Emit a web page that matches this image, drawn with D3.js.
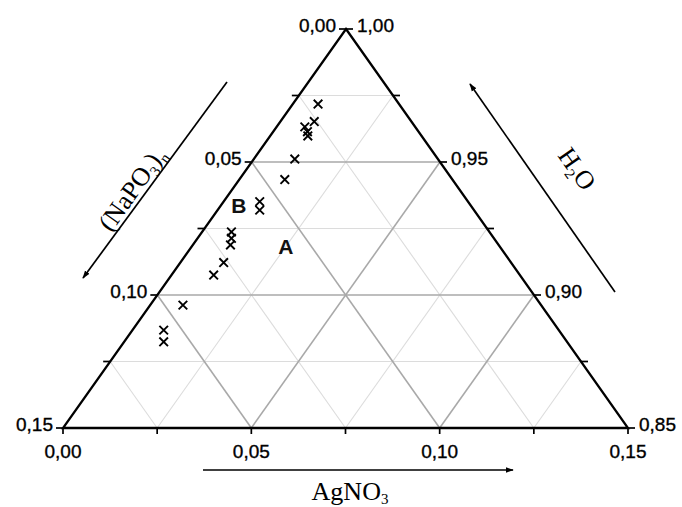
<!DOCTYPE html>
<html>
<head>
<meta charset="utf-8">
<script src="https://cdn.jsdelivr.net/npm/d3@7"></script>
<style>
  html, body { margin: 0; padding: 0; background: #fff; }
  svg { display: block; }
  .tick-label { font-family: "Liberation Sans", Arial, sans-serif; font-size: 19px; fill: #000; stroke: #000; stroke-width: 0.35px; }
  .axis-title { font-family: "Liberation Serif", "Times New Roman", serif; font-size: 26px; fill: #000; }
  .region { font-family: "Liberation Sans", Arial, sans-serif; font-size: 21px; font-weight: bold; fill: #111; }
</style>
</head>
<body>
<svg id="chart" width="682" height="507"></svg>
<script>
// Mass fractions of the measured compositions (H2O is the remainder)
const agno3 = [0.0067, 0.0090, 0.0091, 0.0075, 0.0100, 0.0109, 0.0121, 0.0096, 0.0112,
               0.0078, 0.0090, 0.0100, 0.0115, 0.0112, 0.0087, 0.0083, 0.0105];
const napo3 = [0.0215, 0.0258, 0.0295, 0.0293, 0.0302, 0.0380, 0.0445, 0.0553, 0.0569,
               0.0685, 0.0697, 0.0712, 0.0763, 0.0813, 0.0951, 0.1049, 0.1071];

// Axis ticks and labels
const tickValues = [0, 0.025, 0.05, 0.075, 0.10, 0.125, 0.15];
const labelValues = [0, 0.05, 0.10, 0.15];
const gridMajor = [0.05, 0.10];
const gridMinor = [0.025, 0.075, 0.125];

// Region labels placed by composition (AgNO3, NaPO3 fractions)
const regionNames = ["A", "B"];
const regionAgno3 = [0.0249, 0.0047];
const regionNapo3 = [0.0567, 0.0615];

const span = 0.15;
const svg = d3.select("#chart");

// Triangle corners: apex = pure water, bottom-left = max (NaPO3)n, bottom-right = max AgNO3
const apex = { x: 346, y: 29 }, bl = { x: 63, y: 428 }, br = { x: 628, y: 428 };

// Each component is a linear scale along its own edge direction
const aScale = d3.scaleLinear().domain([0, span]).range([0, 1]);
const nScale = d3.scaleLinear().domain([0, span]).range([0, 1]);
function proj(a, n) {
  const u = aScale(a), v = nScale(n);
  return [apex.x + u * (br.x - apex.x) + v * (bl.x - apex.x),
          apex.y + u * (br.y - apex.y) + v * (bl.y - apex.y)];
}
const fmt = v => d3.format(".2f")(v).replace(".", ",");
const line = d3.line();

// Grid lines
function gridSegs(vals) {
  const segs = [];
  vals.forEach(v => {
    segs.push([proj(0, v), proj(v, 0)]);            // constant H2O
    segs.push([proj(v, 0), proj(v, span - v)]);     // constant AgNO3
    segs.push([proj(0, v), proj(span - v, v)]);     // constant (NaPO3)n
  });
  return segs;
}
const grid = svg.append("g");
grid.selectAll("path.minor").data(gridSegs(gridMinor)).join("path")
  .attr("class", "minor").attr("d", line)
  .attr("stroke", "#dcdcdc").attr("stroke-width", 1.1).attr("fill", "none");
grid.selectAll("path.major").data(gridSegs(gridMajor)).join("path")
  .attr("class", "major").attr("d", line)
  .attr("stroke", "#a9a9a9").attr("stroke-width", 1.6).attr("fill", "none");

// Triangle frame
svg.append("path")
  .attr("d", line([proj(0, 0), proj(span, 0), proj(0, span)]) + "Z")
  .attr("fill", "none").attr("stroke", "#000").attr("stroke-width", 2.3)
  .attr("stroke-linejoin", "miter");

const axes = svg.append("g").attr("stroke", "#000").attr("stroke-width", 1.7);

// Bottom axis: AgNO3
const xScale = d3.scaleLinear().domain([0, span]).range([bl.x, br.x]);
tickValues.forEach(v => {
  const x = xScale(v);
  axes.append("line").attr("x1", x).attr("x2", x).attr("y1", bl.y).attr("y2", bl.y + 6);
});
svg.selectAll("text.bottom").data(labelValues).join("text")
  .attr("class", "tick-label bottom")
  .attr("x", d => xScale(d)).attr("y", bl.y + 30)
  .attr("text-anchor", "middle").text(fmt);

// Left axis: (NaPO3)n, zero at the apex
tickValues.forEach(v => {
  const [x, y] = proj(0, v);
  axes.append("line").attr("x1", x - 7).attr("x2", x).attr("y1", y).attr("y2", y);
});
svg.selectAll("text.left").data(labelValues).join("text")
  .attr("class", "tick-label left")
  .attr("x", d => proj(0, d)[0] - 10).attr("y", d => proj(0, d)[1] + 3)
  .attr("text-anchor", "end").text(fmt);

// Right axis: H2O, 1,00 at the apex
tickValues.forEach(v => {
  const [x, y] = proj(span - v, 0);
  axes.append("line").attr("x1", x).attr("x2", x + 7).attr("y1", y).attr("y2", y);
});
svg.selectAll("text.right").data(labelValues).join("text")
  .attr("class", "tick-label right")
  .attr("x", d => proj(span - d, 0)[0] + 11).attr("y", d => proj(span - d, 0)[1] + 3)
  .attr("text-anchor", "start").text(d => fmt(1 - span + d));

// Arrows beside the axes
const defs = svg.append("defs");
defs.append("marker").attr("id", "head").attr("viewBox", "0 0 10 10")
  .attr("refX", 9).attr("refY", 5).attr("markerWidth", 8).attr("markerHeight", 8)
  .attr("markerUnits", "userSpaceOnUse").attr("orient", "auto")
  .append("path").attr("d", "M0,1.5 L10,5 L0,8.5 Z").attr("fill", "#000");
[
  [[203, 470], [513, 470]],
  [[227, 82], [83, 278]],
  [[615, 292], [470, 84]]
].forEach(seg => {
  svg.append("path").attr("d", line(seg))
    .attr("stroke", "#000").attr("stroke-width", 1.7).attr("fill", "none")
    .attr("marker-end", "url(#head)");
});

// Axis titles
const t1 = svg.append("text").attr("class", "axis-title")
  .attr("x", 350).attr("y", 500).attr("text-anchor", "middle");
t1.append("tspan").text("AgNO");
t1.append("tspan").attr("font-size", 15).attr("dy", 4).text("3");

const angL = Math.atan2(bl.y - apex.y, bl.x - apex.x) * 180 / Math.PI + 180;
const t2 = svg.append("text").attr("class", "axis-title")
  .attr("text-anchor", "middle")
  .attr("transform", `translate(139,194) rotate(${angL})`);
t2.append("tspan").text("(NaPO");
t2.append("tspan").attr("font-size", 15).attr("dy", 5).text("3");
t2.append("tspan").attr("dy", -5).text(")");
t2.append("tspan").attr("font-size", 15).attr("dy", 5).text("n");

const angR = Math.atan2(br.y - apex.y, br.x - apex.x) * 180 / Math.PI;
const t3 = svg.append("text").attr("class", "axis-title")
  .attr("text-anchor", "middle")
  .attr("transform", `translate(570,174) rotate(${angR})`);
t3.append("tspan").text("H");
t3.append("tspan").attr("font-size", 15).attr("dy", 5).text("2");
t3.append("tspan").attr("dy", -5).text("O");

// Data markers
const pts = agno3.map((a, i) => proj(a, napo3[i]));
const r = 4.3;
svg.append("g").selectAll("path").data(pts).join("path")
  .attr("d", d => `M${d[0] - r},${d[1] - r}L${d[0] + r},${d[1] + r}M${d[0] - r},${d[1] + r}L${d[0] + r},${d[1] - r}`)
  .attr("stroke", "#000").attr("stroke-width", 1.9).attr("fill", "none");

// Region labels
svg.selectAll("text.region").data(regionNames).join("text")
  .attr("class", "region")
  .attr("x", (d, i) => proj(regionAgno3[i], regionNapo3[i])[0])
  .attr("y", (d, i) => proj(regionAgno3[i], regionNapo3[i])[1])
  .attr("text-anchor", "middle").attr("dominant-baseline", "central")
  .text(d => d);
</script>
</body>
</html>
